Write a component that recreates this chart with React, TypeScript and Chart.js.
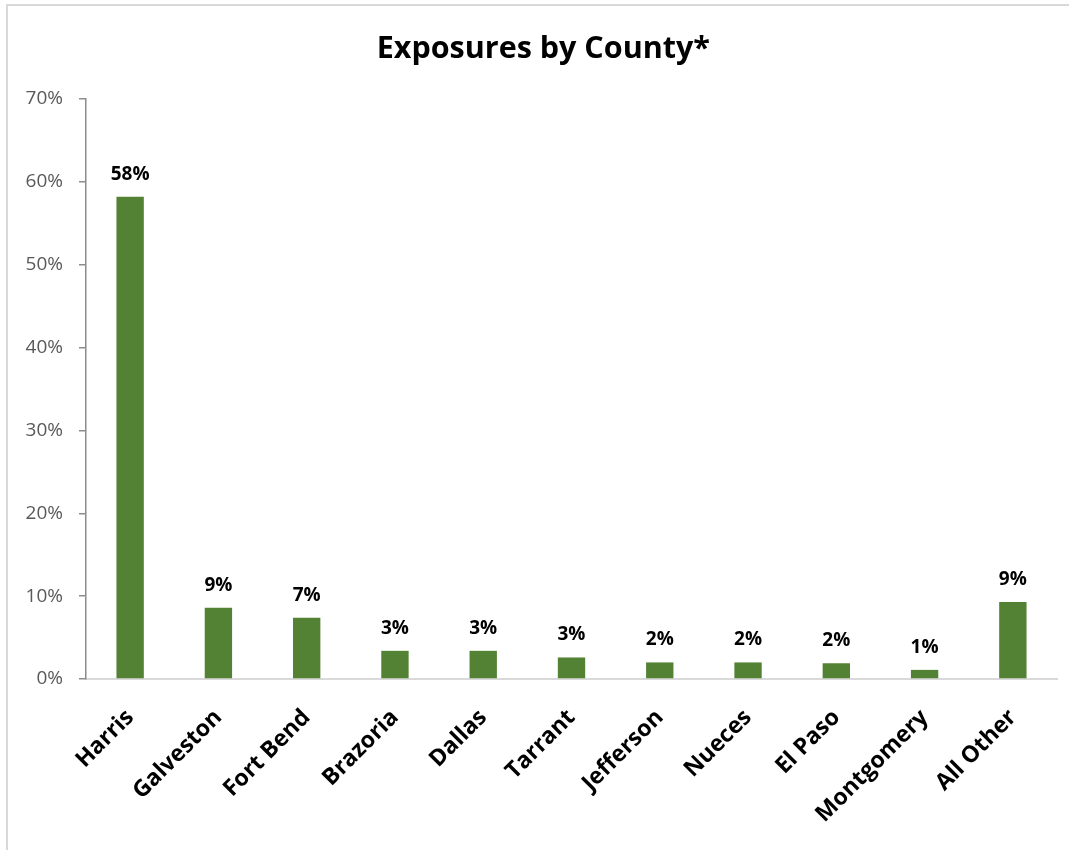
import React, { useEffect, useRef } from "react";
import { Chart, registerables } from "chart.js";

Chart.register(...registerables);

const counties = ["Harris", "Galveston", "Fort Bend", "Brazoria", "Dallas", "Tarrant", "Jefferson", "Nueces", "El Paso", "Montgomery", "All Other"];
const exposures = [58.2, 8.6, 7.4, 3.4, 3.4, 2.6, 2.0, 2.0, 1.9, 1.1, 9.3];
const yTicks = [0, 10, 20, 30, 40, 50, 60, 70];
const chartTitle = "Exposures by County*";

const FONT = "'Open Sans', 'Noto Sans', sans-serif";

const dataLabelPlugin = {
  id: "dataLabels",
  afterDatasetsDraw(chart: any) {
    const ctx = chart.ctx;
    const meta = chart.getDatasetMeta(0);
    ctx.save();
    ctx.font = `bold 19px ${FONT}`;
    ctx.fillStyle = "#000000";
    ctx.textAlign = "center";
    ctx.textBaseline = "alphabetic";
    meta.data.forEach((bar: any, i: number) => {
      const v = exposures[i];
      ctx.fillText(`${Math.round(v)}%`, bar.x, bar.y - 17);
    });
    ctx.restore();
  },
};

const titlePlugin = {
  id: "customTitle",
  afterDraw(chart: any) {
    const ctx = chart.ctx;
    const area = chart.chartArea;
    ctx.save();
    ctx.font = `bold 30.5px ${FONT}`;
    ctx.fillStyle = "#000000";
    ctx.textAlign = "center";
    ctx.textBaseline = "middle";
    ctx.fillText(chartTitle, area.left + (area.right - area.left) * 0.471, area.top * 0.5);
    ctx.restore();
  },
};

export default function App() {
  const ref = useRef<HTMLCanvasElement | null>(null);

  useEffect(() => {
    if (!ref.current) return;
    const chart = new Chart(ref.current, {
      type: "bar",
      data: {
        labels: counties,
        datasets: [
          {
            data: exposures,
            backgroundColor: "#548235",
            borderWidth: 0,
            barPercentage: 0.31,
            categoryPercentage: 1,
          },
        ],
      },
      options: {
        responsive: false,
        animation: false,
        layout: { padding: { left: 0, right: 12, top: 99, bottom: 0 } },
        plugins: {
          legend: { display: false },
          tooltip: { enabled: false },
          title: { display: false },
        },
        scales: {
          x: {
            afterFit: (scale: any) => {
              scale.height = 171;
            },
            grid: { display: false, drawTicks: false },
            border: { display: true, color: "#d9d9d9", width: 2 },
            ticks: {
              color: "#000000",
              font: { family: FONT, size: 23, weight: "bold" },
              maxRotation: 45,
              minRotation: 45,
              padding: 25,
              autoSkip: false,
            },
          },
          y: {
            min: 0,
            max: 70,
            afterFit: (scale: any) => {
              scale.width = 86;
            },
            afterBuildTicks: (scale: any) => {
              scale.ticks = yTicks.map((v) => ({ value: v }));
            },
            grid: { drawOnChartArea: false, drawTicks: true, tickLength: 7, color: "#8c8c8c", lineWidth: 1.5 },
            border: { display: true, color: "#8c8c8c", width: 1.5 },
            ticks: {
              color: "#595959",
              font: { family: FONT, size: 19 },
              padding: 16,
              callback: (v: any) => `${v}%`,
            },
          },
        },
      },
      plugins: [dataLabelPlugin, titlePlugin],
    });
    return () => chart.destroy();
  }, []);

  return (
    <div style={{ position: "fixed", left: 0, top: 0, width: 1069, height: 850, background: "#ffffff", overflow: "hidden" }}>
      <div
        style={{
          position: "absolute",
          left: 6,
          top: 4,
          width: 1080,
          height: 870,
          borderLeft: "2px solid #d9d9d9",
          borderTop: "2px solid #d9d9d9",
        }}
      />
      <canvas ref={ref} width={1069} height={850} style={{ position: "absolute", left: 0, top: 0, width: 1069, height: 850 }} />
    </div>
  );
}
